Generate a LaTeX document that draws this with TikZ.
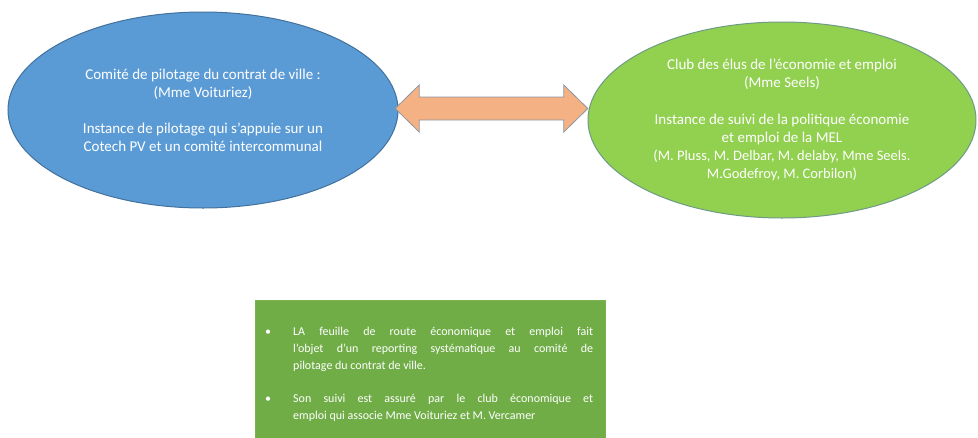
\documentclass[tikz,border=0pt]{standalone}
\usepackage{fontspec}
\setmainfont{Carlito}
\usetikzlibrary{calc}
\definecolor{blueFill}{HTML}{5B9BD5}
\definecolor{blueLine}{HTML}{41719C}
\definecolor{greenFill}{HTML}{92D050}
\definecolor{greenLine}{HTML}{6E9A86}
\definecolor{boxFill}{HTML}{70AD47}
\definecolor{boxLine}{HTML}{78B350}
\definecolor{arrowFill}{HTML}{F4B183}
\definecolor{arrowLine}{HTML}{8A94A0}
\tikzset{
  ovaltext/.style={text=white, align=center, font=\fontsize{15}{18}\selectfont},
  linkarrow/.style={fill=arrowFill, draw=arrowLine, line width=0.8pt, line join=miter},
  notetext/.style={text=white, anchor=north west, inner sep=0pt, align=justify, font=\fontsize{12}{17}\selectfont}
}
\begin{document}
\begin{tikzpicture}[x=1pt,y=-1pt]
\useasboundingbox (0,0) rectangle (978,437);
% ellipses
\path[fill=blueFill, draw=blueLine, line width=1pt] (203,110) ellipse [x radius=195, y radius=98];
\node[minimum width=390pt, minimum height=196pt, inner sep=0pt] (blue) at (203,110) {};
\path[fill=greenFill, draw=greenLine, line width=1pt] (782,120) ellipse [x radius=194, y radius=98];
\node[minimum width=388pt, minimum height=196pt, inner sep=0pt] (green) at (782,120) {};
% texts
\node[ovaltext] (bluetext) at (203,110) {Comité de pilotage du contrat de ville :\\(Mme Voituriez)\\[18pt]Instance de pilotage qui s’appuie sur un\\Cotech PV et un comité intercommunal};
\node[ovaltext] (greentext) at (782,119.5) {Club des élus de l’économie et emploi\\(Mme Seels)\\[19pt]Instance de suivi de la politique économie\\et emploi de la MEL\\{\fontsize{14.5}{18}\selectfont (M. Pluss, M. Delbar, M. delaby, Mme Seels.}\\{\fontsize{14.5}{18}\selectfont M.Godefroy, M. Corbilon)}};
% double arrow between the ellipses
\coordinate (aL) at ($(blue.east)+(-3,-1.5)$);
\coordinate (aR) at ($(green.west |- aL)$);
\draw[linkarrow] (aL) -- ++(24,-23.5) -- ++(0,12) -- ($(aR)+(-24,-11.5)$) -- ++(0,-12) -- (aR)
  -- ++(-24,23.5) -- ++(0,-12) -- ($(aL)+(24,11.5)$) -- ++(0,12) -- cycle;
% bottom box (runs past the lower edge of the picture)
\fill[boxFill] (255,300) rectangle (605,440);
\draw[boxLine, line width=0.6pt] (255,440) -- (255,300) -- (605,300) -- (605,440);
\node[inner sep=0pt, minimum width=350pt, minimum height=137pt, anchor=north west] (note) at (255,300) {};
\node[notetext, text width=328pt] (notetxt) at (265,327) {%
\makebox[28pt][l]{•}\parbox[t]{300pt}{\fontsize{12}{17}\selectfont LA feuille de route économique et emploi fait\linebreak l’objet d’un reporting systématique au comité de\linebreak pilotage du contrat de ville.}\par\vspace{22pt}
\makebox[28pt][l]{•}\parbox[t]{300pt}{\fontsize{12}{17}\selectfont Son suivi est assuré par le club économique et\linebreak emploi qui associe Mme Voituriez et M. Vercamer}};
\end{tikzpicture}
\end{document}
